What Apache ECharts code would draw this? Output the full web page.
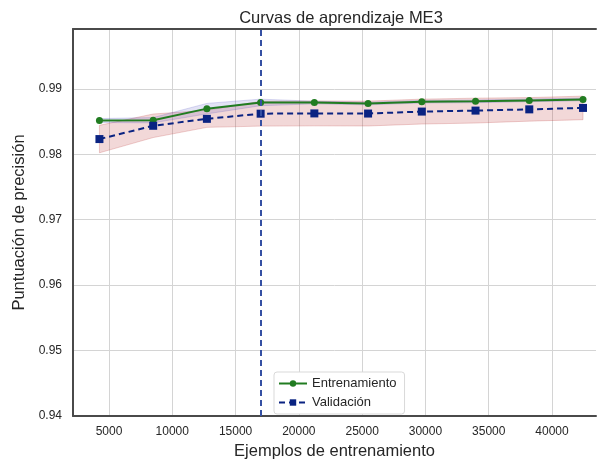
<!DOCTYPE html>
<html>
<head>
<meta charset="utf-8">
<script src="https://cdn.jsdelivr.net/npm/echarts@6/dist/echarts.min.js"></script>
<style>
  html, body { margin: 0; padding: 0; background: #fff; }
  #chart { width: 597px; height: 465px; }
</style>
</head>
<body>
<div id="chart"></div>
<script>
// Training-set sizes used for the learning curve
const trainSizes = [4245, 8490, 12735, 16980, 21224, 25469, 29714, 33959, 38204, 42449];
// Mean accuracy on the training folds and its spread
const trainMean = [0.98515, 0.9852, 0.98697, 0.98792, 0.9879, 0.98775, 0.98803, 0.98808, 0.98823, 0.98838];
const trainStd  = [0.0003, 0.0004, 0.0008, 0.0005, 0.0002, 0.0002, 0.0002, 0.0002, 0.0002, 0.0002];
// Mean accuracy on the validation folds and its spread
const valMean = [0.98232, 0.98435, 0.98541, 0.9862, 0.98624, 0.98622, 0.98652, 0.98667, 0.98686, 0.98708];
const valStd  = [0.0021, 0.0018, 0.0013, 0.0019, 0.0019, 0.0019, 0.0019, 0.0019, 0.0018, 0.0018];
// Chosen training size marked with a vertical line
const chosenSize = 16980;
// Axis tick labels
const xTicks = [5000, 10000, 15000, 20000, 25000, 30000, 35000, 40000];
const yTicks = [0.94, 0.95, 0.96, 0.97, 0.98, 0.99];

const FONT = '"Liberation Sans", Arial, sans-serif';
const X_MIN = 2156, X_MAX = 43476;
const SPINE = { show: true, onZero: false, lineStyle: { color: '#4a4a4a', width: 2 } };

const pairs = (xs, ys) => xs.map((x, i) => [x, ys[i]]);

// Shaded mean ± std band, drawn as one polygon through the axis scales
function band(name, mean, std, fill, edge) {
  return {
    name: name, type: 'custom', silent: true, z: 1,
    data: trainSizes.map((x, i) => [x, mean[i] - std[i], mean[i] + std[i]]),
    encode: { x: 0, y: [1, 2] },
    renderItem: function (params, api) {
      if (params.dataIndexInside !== 0) return null;
      const n = params.dataInsideLength;
      const top = [], bottom = [];
      for (let j = 0; j < n; j++) {
        top.push(api.coord([api.value(0, j), api.value(2, j)]));
        bottom.push(api.coord([api.value(0, j), api.value(1, j)]));
      }
      return {
        type: 'polygon',
        shape: { points: top.concat(bottom.reverse()) },
        style: { fill: fill, stroke: edge, lineWidth: 0.8 }
      };
    }
  };
}

const chart = echarts.init(document.getElementById('chart'), null, { renderer: 'canvas' });

chart.setOption({
  animation: false,
  backgroundColor: '#ffffff',
  title: {
    text: 'Curvas de aprendizaje ME3',
    left: 336, top: 5, textAlign: 'center',
    textStyle: { fontFamily: FONT, fontSize: 16.5, fontWeight: 'normal', color: '#262626' }
  },
  grid: { left: 73, top: 29, bottom: 45, right: 1, show: false },
  legend: {
    data: [
      { name: 'Entrenamiento' },
      { name: 'Validación' }
    ],
    orient: 'vertical',
    left: 274, top: 372,
    itemWidth: 28, itemHeight: 8, itemGap: 6,
    padding: [5, 8, 5, 4],
    backgroundColor: '#ffffff',
    borderColor: '#d9d9d9', borderWidth: 1, borderRadius: 3,
    textStyle: { fontFamily: FONT, fontSize: 13, color: '#262626' }
  },
  xAxis: [
    {
      type: 'value', min: X_MIN, max: X_MAX,
      name: 'Ejemplos de entrenamiento', nameLocation: 'middle', nameGap: 27,
      nameTextStyle: { fontFamily: FONT, fontSize: 16.5, color: '#262626' },
      axisLine: SPINE,
      axisTick: { show: false, customValues: xTicks },
      axisLabel: {
        customValues: xTicks, fontFamily: FONT, fontSize: 12, color: '#262626', margin: 10,
        formatter: v => String(v)
      },
      splitLine: { show: true, lineStyle: { color: '#d4d4d4', width: 1 } }
    },
    {
      // top spine only
      type: 'value', position: 'top', min: X_MIN, max: X_MAX,
      axisLine: SPINE, axisTick: { show: false }, axisLabel: { show: false },
      splitLine: { show: false }
    }
  ],
  yAxis: {
    type: 'value', min: 0.94, max: 0.99914,
    name: 'Puntuación de precisión', nameLocation: 'middle', nameGap: 45,
    nameTextStyle: { fontFamily: FONT, fontSize: 16.5, color: '#262626' },
    axisLine: SPINE,
    axisTick: { show: false, customValues: yTicks },
    axisLabel: {
      customValues: yTicks, fontFamily: FONT, fontSize: 12, color: '#262626', margin: 11,
      formatter: v => v.toFixed(2)
    },
    splitLine: { show: true, lineStyle: { color: '#d4d4d4', width: 1 } }
  },
  series: [
    band('valBand', valMean, valStd, 'rgba(190, 60, 60, 0.2)', 'rgba(190, 60, 60, 0.3)'),
    band('trainBand', trainMean, trainStd, 'rgba(70, 70, 190, 0.15)', 'rgba(70, 70, 190, 0.25)'),
    {
      name: 'Entrenamiento', type: 'line',
      data: pairs(trainSizes, trainMean),
      symbol: 'circle', symbolSize: 7,
      lineStyle: { color: '#217c21', width: 2 },
      itemStyle: { color: '#217c21' },
      z: 4
    },
    {
      name: 'Validación', type: 'line',
      data: pairs(trainSizes, valMean),
      symbol: 'rect', symbolSize: 8,
      lineStyle: { color: '#0a2382', width: 2, type: [6, 4] },
      itemStyle: { color: '#0a2382' },
      z: 4,
      markLine: {
        silent: true, symbol: 'none', label: { show: false },
        lineStyle: { color: '#3550a3', width: 2, type: [6, 4] },
        data: [{ xAxis: chosenSize }]
      }
    }
  ]
});
</script>
</body>
</html>
